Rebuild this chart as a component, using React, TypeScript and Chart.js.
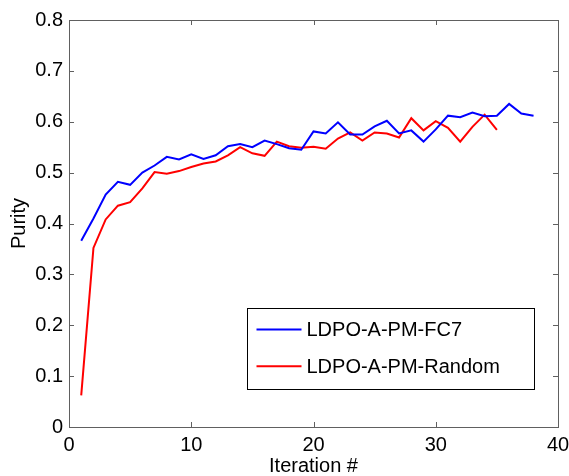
import React, { useEffect, useRef } from "react";
import { Chart, registerables } from "chart.js";

Chart.register(...registerables);

const fc7Iterations = [1, 2, 3, 4, 5, 6, 7, 8, 9, 10, 11, 12, 13, 14, 15, 16, 17, 18, 19, 20, 21, 22, 23, 24, 25, 26, 27, 28, 29, 30, 31, 32, 33, 34, 35, 36, 37, 38];
const fc7Purity = [0.366, 0.41, 0.457, 0.482, 0.476, 0.5, 0.514, 0.531, 0.526, 0.536, 0.527, 0.534, 0.552, 0.556, 0.55, 0.563, 0.556, 0.548, 0.545, 0.581, 0.577, 0.599, 0.575, 0.575, 0.591, 0.602, 0.577, 0.583, 0.561, 0.585, 0.612, 0.609, 0.618, 0.611, 0.612, 0.635, 0.616, 0.612];

const randomIterations = [1, 2, 3, 4, 5, 6, 7, 8, 9, 10, 11, 12, 13, 14, 15, 16, 17, 18, 19, 20, 21, 22, 23, 24, 25, 26, 27, 28, 29, 30, 31, 32, 33, 34, 35];
const randomPurity = [0.062, 0.352, 0.408, 0.435, 0.442, 0.469, 0.501, 0.498, 0.503, 0.511, 0.518, 0.522, 0.534, 0.55, 0.538, 0.533, 0.561, 0.552, 0.549, 0.551, 0.547, 0.567, 0.579, 0.563, 0.579, 0.577, 0.569, 0.607, 0.583, 0.601, 0.588, 0.561, 0.59, 0.614, 0.584];

const seriesLabels = ["LDPO-A-PM-FC7", "LDPO-A-PM-Random"];
const seriesColors = ["#0000ff", "#ff0000"];

const xTitle = "Iteration #";
const yTitle = "Purity";

const FONT = "'Liberation Sans', Arial, Helvetica, sans-serif";
const FONT_SIZE = 20;

const boxPlugin = {
  id: "matlabBox",
  afterDraw(chart: any) {
    const { ctx, chartArea } = chart;
    const { left, right, top, bottom } = chartArea;
    const xs = chart.scales.x;
    const ys = chart.scales.y;
    ctx.save();
    ctx.strokeStyle = "#606060";
    ctx.lineWidth = 1;
    ctx.strokeRect(Math.round(left) + 0.5, Math.round(top) + 0.5, Math.round(right - left), Math.round(bottom - top));
    const tl = 5;
    ctx.beginPath();
    xs.ticks.forEach((t: any) => {
      const px = Math.round(xs.getPixelForValue(t.value)) + 0.5;
      ctx.moveTo(px, bottom);
      ctx.lineTo(px, bottom - tl);
      ctx.moveTo(px, top);
      ctx.lineTo(px, top + tl);
    });
    ys.ticks.forEach((t: any) => {
      const py = Math.round(ys.getPixelForValue(t.value)) + 0.5;
      ctx.moveTo(left, py);
      ctx.lineTo(left + tl, py);
      ctx.moveTo(right, py);
      ctx.lineTo(right - tl, py);
    });
    ctx.stroke();

    // legend box
    const bw = 287;
    const bh = 81;
    const bx = Math.round(right - 24 - bw) + 0.5;
    const by = Math.round(bottom - 38 - bh) + 0.5;
    ctx.fillStyle = "#ffffff";
    ctx.fillRect(bx, by, bw, bh);
    ctx.strokeStyle = "#000000";
    ctx.strokeRect(bx, by, bw, bh);
    ctx.font = `${FONT_SIZE}px ${FONT}`;
    ctx.textBaseline = "middle";
    ctx.textAlign = "left";
    chart.data.datasets.forEach((ds: any, i: number) => {
      const ly = by + 21 + i * 36.7;
      ctx.beginPath();
      ctx.strokeStyle = ds.borderColor;
      ctx.lineWidth = 2;
      ctx.moveTo(bx + 9, ly);
      ctx.lineTo(bx + 54, ly);
      ctx.stroke();
      ctx.fillStyle = "#000000";
      ctx.fillText(ds.label, bx + 59, ly + 1);
    });
    ctx.restore();
  },
};

export default function App() {
  const ref = useRef<HTMLCanvasElement | null>(null);
  useEffect(() => {
    if (!ref.current) return;
    const chart = new Chart(ref.current, {
      type: "line",
      data: {
        datasets: [
          {
            label: seriesLabels[0],
            data: fc7Iterations.map((x, i) => ({ x, y: fc7Purity[i] })),
            borderColor: seriesColors[0],
            backgroundColor: seriesColors[0],
            borderWidth: 2,
            pointRadius: 0,
            tension: 0,
          },
          {
            label: seriesLabels[1],
            data: randomIterations.map((x, i) => ({ x, y: randomPurity[i] })),
            borderColor: seriesColors[1],
            backgroundColor: seriesColors[1],
            borderWidth: 2,
            pointRadius: 0,
            tension: 0,
          },
        ],
      },
      options: {
        animation: false,
        responsive: false,
        layout: { padding: { top: 20, right: 11, left: 0, bottom: 0 } },
        plugins: { legend: { display: false }, tooltip: { enabled: false } },
        scales: {
          x: {
            type: "linear",
            min: 0,
            max: 40,
            ticks: { stepSize: 10, color: "#000", padding: 6, font: { family: FONT, size: FONT_SIZE } },
            grid: { display: false, drawTicks: false },
            border: { display: false },
            title: { display: true, text: xTitle, color: "#000", font: { family: FONT, size: FONT_SIZE }, padding: { top: 0, bottom: -2 } },
            afterFit: (s: any) => { s.height = 49; s.paddingRight = 0; s.paddingLeft = 0; },
          },
          y: {
            min: 0,
            max: 0.8,
            ticks: {
              stepSize: 0.1,
              color: "#000",
              padding: 6,
              font: { family: FONT, size: FONT_SIZE },
              callback: (v: any) => (Number(v) === 0 ? "0" : Number(v).toFixed(1)),
            },
            grid: { display: false, drawTicks: false },
            border: { display: false },
            title: { display: true, text: yTitle, color: "#000", font: { family: FONT, size: FONT_SIZE }, padding: { top: 7, bottom: 0 } },
            afterFit: (s: any) => { s.width = 69; s.paddingTop = 0; s.paddingBottom = 0; },
          },
        },
      },
      plugins: [boxPlugin],
    });
    return () => chart.destroy();
  }, []);
  return (
    <div style={{ position: "fixed", left: 0, top: 0, width: 569, height: 476, background: "#fff" }}>
      <canvas ref={ref} width={569} height={476} style={{ width: 569, height: 476, display: "block" }} />
    </div>
  );
}
